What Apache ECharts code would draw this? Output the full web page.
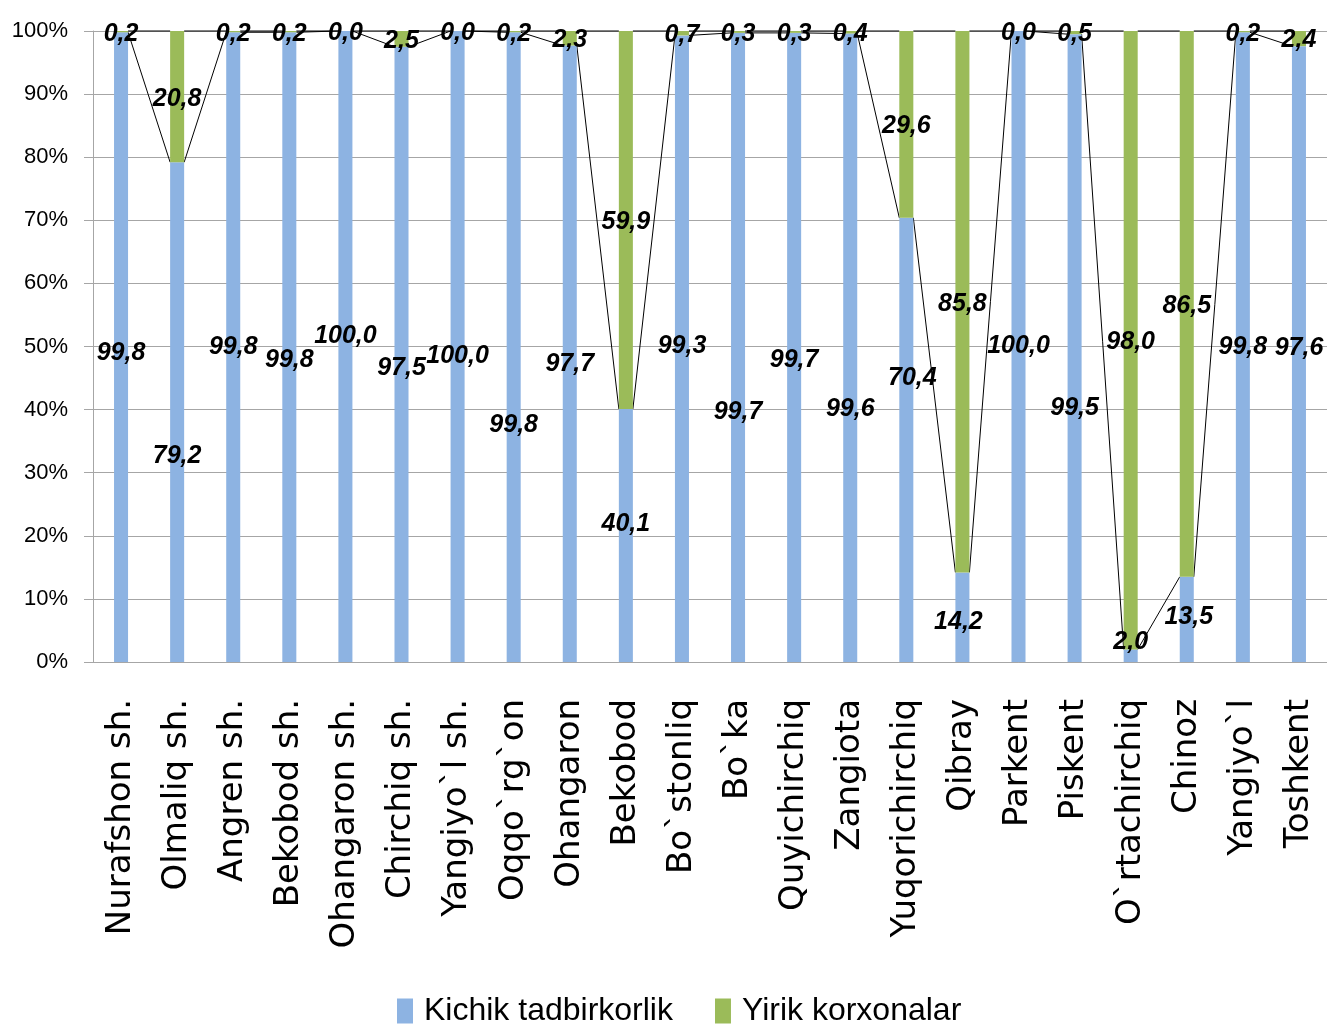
<!DOCTYPE html>
<html><head><meta charset="utf-8">
<script src="https://cdn.jsdelivr.net/npm/echarts@6/dist/echarts.min.js"></script>
<style>html,body{margin:0;padding:0;background:#fff}#c{width:1327px;height:1024px}</style>
</head><body><div id="c"></div>
<script>
const categories = ['Nurafshon sh.','Olmaliq sh.','Angren sh.','Bekobod sh.','Ohangaron sh.','Chirchiq sh.','Yangiyo`l sh.','Oqqo`rg`on','Ohangaron','Bekobod','Bo`stonliq','Bo`ka','Quyichirchiq','Zangiota','Yuqorichirchiq','Qibray','Parkent','Piskent','O`rtachirchiq','Chinoz','Yangiyo`l','Toshkent'];
const kichik = [99.8,79.2,99.8,99.8,100.0,97.5,100.0,99.8,97.7,40.1,99.3,99.7,99.7,99.6,70.4,14.2,100.0,99.5,2.0,13.5,99.8,97.6];
const yirik = [0.2,20.8,0.2,0.2,0.0,2.5,0.0,0.2,2.3,59.9,0.7,0.3,0.3,0.4,29.6,85.8,0.0,0.5,98.0,86.5,0.2,2.4];
const seriesNames = ['Kichik tadbirkorlik','Yirik korxonalar'];

// label nudges (px) reproducing manually moved labels of the original
const kichikLabelShift = [[0,6],[0,44],[0,0],[0,13],[0,-10],[0,14],[0,10],[0,78],[0,10],[0,-11],[0,-3],[0,65],[0,13],[0,61],[6,-62],[-4,5],[0,0],[0,60],[0,-14],[2,-2],[0,0],[0,-6]];

const fmt = v => v.toFixed(1).replace('.', ',');
const labelFont = {fontFamily:"'Liberation Sans',sans-serif", fontStyle:'italic', fontWeight:'bold', fontSize:25, color:'#000'};
const BAR_FRAC = 0.25;

const chart = echarts.init(document.getElementById('c'), null, {renderer:'canvas'});

const linkData = [];
for (let i = 0; i < categories.length - 1; i++) {
  linkData.push([i, kichik[i], kichik[i+1], kichik[i] + yirik[i], kichik[i+1] + yirik[i+1]]);
}

chart.setOption({
  animation: false,
  backgroundColor: '#fff',
  grid: {left: 93, right: 0, top: 31, bottom: 362, containLabel: false},
  legend: {
    data: seriesNames, left: 392, top: 990, icon: 'rect', itemWidth: 16, itemHeight: 25, itemGap: 42,
    textStyle: {fontFamily:"'Liberation Sans',sans-serif", fontSize: 32, color:'#000', padding:[0,0,0,6]}
  },
  xAxis: {
    type: 'category', data: categories,
    axisLine: {lineStyle: {color:'#a6a6a6', width:1}},
    axisTick: {show:false},
    axisLabel: {interval:0, rotate:90, margin:37, fontFamily:"'DejaVu Sans',sans-serif", fontSize:34, color:'#000'}
  },
  yAxis: {
    type: 'value', min: 0, max: 100, interval: 10,
    axisLine: {show:true, lineStyle:{color:'#a6a6a6'}},
    axisTick: {show:true, inside:false, length:9, lineStyle:{color:'#a6a6a6'}},
    splitLine: {show:true, lineStyle:{color:'#a6a6a6', width:1}},
    axisLabel: {formatter:'{value}%', margin:25, fontFamily:"'Liberation Sans',sans-serif", fontSize:22, color:'#000'}
  },
  series: [
    {
      name: seriesNames[0], type:'bar', stack:'t', barWidth: (BAR_FRAC*100)+'%', z:4,
      itemStyle:{color:'#8db3e2'},
      data: kichik.map((v,i)=>({value:v, label:{offset:kichikLabelShift[i]}})),
      label:{show:true, position:'inside', formatter: p=>fmt(p.value), ...labelFont}
    },
    {
      name: seriesNames[1], type:'bar', stack:'t', barWidth: (BAR_FRAC*100)+'%', z:4,
      itemStyle:{color:'#9bbb59'},
      data: yirik,
      label:{show:true, position:'inside', offset:[0,2], formatter: p=>fmt(p.value), ...labelFont}
    },
    {
      type:'custom', z:3, silent:true,
      data: linkData,
      encode:{x:0, y:[1,2,3,4]},
      renderItem: function(params, api){
        const i = api.value(0);
        const half = api.size([1,0])[0] * BAR_FRAC / 2;
        const children = [];
        [[1,2],[3,4]].forEach(([a,b])=>{
          const p1 = api.coord([i, api.value(a)]);
          const p2 = api.coord([i+1, api.value(b)]);
          children.push({type:'line', shape:{x1:p1[0]+half, y1:p1[1], x2:p2[0]-half, y2:p2[1]},
            style:{stroke:'#000', lineWidth:1}});
        });
        return {type:'group', children};
      }
    }
  ]
});
</script></body></html>
